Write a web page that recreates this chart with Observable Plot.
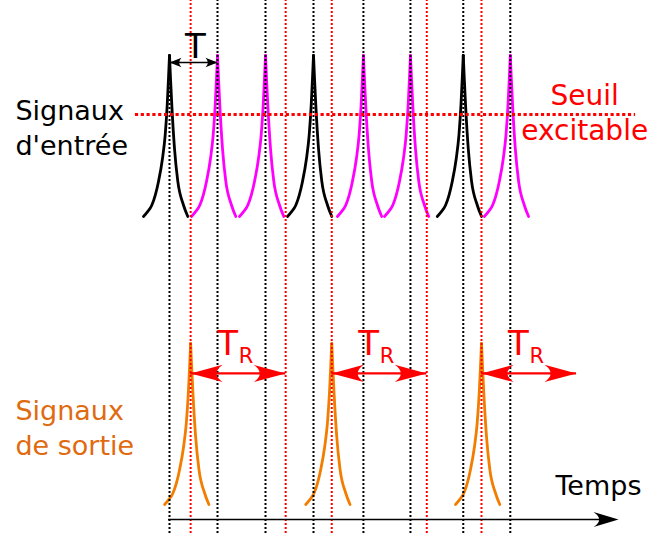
<!DOCTYPE html>
<html>
<head>
<meta charset="utf-8">
<script src="https://cdn.jsdelivr.net/npm/d3@7"></script>
<script src="https://cdn.jsdelivr.net/npm/@observablehq/plot@0.6"></script>
<style>
  html, body { margin: 0; padding: 0; background: #fff; }
  #chart svg { display: block; }
</style>
</head>
<body>
<div id="chart"></div>
<script>
// ---- data (time in ms, signal in normalised amplitude) ----
const inputBlack   = [0, 30, 61.2];                 // input spikes, train 1
const inputMagenta = [10, 20, 40.4, 50.2, 71];      // input spikes, train 2
const outputSpikes = [4.4, 33.8, 65];               // output spikes
const refractoryPeriod = 19.8;                      // T_R
const period = 10;                                  // T
const redMarkers = [4.4, 24.2, 33.8, 53.6, 65];     // red dotted markers
const threshold = 0.638;                            // seuil excitable
const inputBase = 0;
const outputBase = -1.767;
// one spike's shape: [time offset, height]
const spikeLeft  = [[-5.42, 0.012], [-4.6, 0.04], [-3.69, 0.081], [-2.29, 0.227], [-1.46, 0.368], [-0.9, 0.511], [-0.48, 0.695], [-0.21, 0.859], [0, 1]];
const spikeRight = [[0, 1], [0.21, 0.86], [0.48, 0.695], [1.04, 0.429], [1.73, 0.227], [2.92, 0.081], [3.81, 0.012]];
const labels = {
  input: "Signaux\nd'entrée",
  output: "Signaux\nde sortie",
  threshold: "Seuil\nexcitable",
  time: "Temps",
  period: "T",
  refractory: "T",
  refractorySub: "R"
};

// ---- derived tables ----
function spikeTable(times, base, group) {
  const rows = [];
  times.forEach((s, i) => {
    spikeLeft.forEach(([dt, h]) => rows.push({t: s + dt, v: base + h, id: group + i + "L"}));
    spikeRight.forEach(([dt, h]) => rows.push({t: s + dt, v: base + h, id: group + i + "R"}));
  });
  return rows;
}
const blackRows = spikeTable(inputBlack, inputBase, "b");
const magentaRows = spikeTable(inputMagenta, inputBase, "m");
const orangeRows = spikeTable(outputSpikes, outputBase, "o");

const yTop = 1.337, yBottom = -1.933;
const blackRules = [...inputBlack, ...inputMagenta].sort((a, b) => a - b)
  .map((t, i) => ({t, y2: i === 0 ? 0.87 : yTop}));
const redRules = redMarkers.map(t => ({t}));

const trArrows = outputSpikes.map(s => ({a: s, b: s + refractoryPeriod}));

// notched arrowhead symbol; dir = -1 points left, +1 points right (tip at the point)
function arrowHead(ratio, ctrl, dir) {
  return {
    draw(context, size) {
      const L = Math.sqrt(size / Math.PI);
      const H = L * ratio;
      const s = -dir;
      context.moveTo(0, 0);
      context.lineTo(s * L, -H);
      context.quadraticCurveTo(s * ctrl * L, 0, s * L, H);
      context.closePath();
    }
  };
}

const yArrowT = 0.957, yArrowTR = -0.951, yAxis = -1.847;

const chart = Plot.plot({
  width: 649,
  height: 533,
  margin: 0,
  x: {domain: [-35.21, 100], axis: null},
  y: {domain: [yBottom, yTop], axis: null},
  style: {fontFamily: "DejaVu Sans", background: "#fff"},
  marks: [
    // spikes
    Plot.line(blackRows, {x: "t", y: "v", z: "id", stroke: "#000", strokeWidth: 2.8, curve: "monotone-x"}),
    Plot.line(magentaRows, {x: "t", y: "v", z: "id", stroke: "#ff00ff", strokeWidth: 2.8, curve: "monotone-x"}),
    Plot.line(orangeRows, {x: "t", y: "v", z: "id", stroke: "#f27d00", strokeWidth: 2.8, curve: "monotone-x"}),
    // dotted guides
    Plot.ruleX(blackRules, {x: "t", y1: yBottom, y2: "y2", stroke: "#000", strokeWidth: 2, strokeDasharray: "2,2"}),
    Plot.ruleX(redRules, {x: "t", y1: yBottom, y2: yTop, stroke: "#ff0000", strokeWidth: 2, strokeDasharray: "2,2"}),
    Plot.ruleY([threshold], {x1: -7.1, x2: 97.1, stroke: "#ff0000", strokeWidth: 3, strokeDasharray: "3.2,2.6"}),
    // T arrow
    Plot.ruleY([yArrowT], {x1: inputBlack[0], x2: inputBlack[0] + period, stroke: "#000", strokeWidth: 1.5}),
    Plot.dot([inputBlack[0]], {x: d => d, y: yArrowT, r: 12, symbol: arrowHead(0.4, 0.62, -1), fill: "#000", stroke: "none"}),
    Plot.dot([inputBlack[0] + period], {x: d => d, y: yArrowT, r: 12, symbol: arrowHead(0.4, 0.62, 1), fill: "#000", stroke: "none"}),
    Plot.text([labels.period], {x: inputBlack[0] + period / 2 + 0.4, y: 0.982, text: d => d, fontSize: 34, lineAnchor: "bottom", fill: "#000"}),
    // T_R arrows
    Plot.ruleY(trArrows, {x1: "a", x2: "b", y: yArrowTR, stroke: "#ff0000", strokeWidth: 2.2}),
    Plot.dot(trArrows, {x: "a", y: yArrowTR, r: 32, symbol: arrowHead(0.27, 0.62, -1), fill: "#ff0000", stroke: "none"}),
    Plot.dot(trArrows, {x: "b", y: yArrowTR, r: 32, symbol: arrowHead(0.27, 0.62, 1), fill: "#ff0000", stroke: "none"}),
    Plot.text(trArrows, {x: d => d.a + 7.7, y: -0.840, text: () => labels.refractory, fontSize: 34, lineAnchor: "bottom", fill: "#ff0000"}),
    Plot.text(trArrows, {x: d => d.a + 10.0, y: -0.890, text: () => labels.refractorySub, fontSize: 21, lineAnchor: "bottom", textAnchor: "start", fill: "#ff0000"}),
    // time axis
    Plot.ruleY([yAxis], {x1: -0.2, x2: 91, stroke: "#000", strokeWidth: 1.6}),
    Plot.dot([93.55], {x: d => d, y: yAxis, r: 25, symbol: arrowHead(0.3, 0.55, 1), fill: "#000", stroke: "none"}),
    Plot.text([labels.time], {x: 80.4, y: -1.699, text: d => d, fontSize: 27, textAnchor: "start", lineAnchor: "bottom", fill: "#000"}),
    // side labels
    Plot.text([labels.input], {x: -32.1, y: 0.387, text: d => d, fontSize: 27, lineHeight: 1.296, textAnchor: "start", lineAnchor: "bottom", fill: "#000"}),
    Plot.text([labels.output], {x: -32.1, y: -1.454, text: d => d, fontSize: 27, lineHeight: 1.296, textAnchor: "start", lineAnchor: "bottom", fill: "#e06a10"}),
    Plot.text([labels.threshold], {x: 86.5, y: 0.479, text: d => d, fontSize: 28, lineHeight: 1.25, textAnchor: "middle", lineAnchor: "bottom", fill: "#ff0000"})
  ]
});
document.getElementById("chart").appendChild(chart);
</script>
</body>
</html>
